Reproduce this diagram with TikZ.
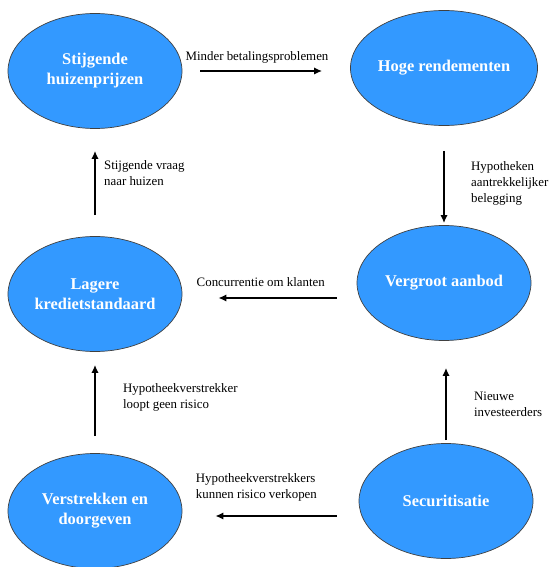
\documentclass[tikz,border=0pt]{standalone}
\usepackage{fontspec}
\setmainfont{Liberation Serif}
\newfontfamily\dutchserif{Liberation Serif}
\usetikzlibrary{shapes.geometric,arrows.meta}
\definecolor{blobblue}{RGB}{51,153,255}
\tikzset{
	every path/.style = {line width=1.9pt},
	blob/.style={ellipse, draw=black!75, line width=0.6pt, fill=blobblue, text=white,
		font=\dutchserif\fontsize{14}{17}\selectfont\bfseries, align=center,
		minimum width=5.22cm, minimum height=3.45cm, inner sep=0pt},
	flow/.style={-{Latex[length=2.4mm,width=2.2mm]}},
	lbl/.style={font=\dutchserif\fontsize{11}{13.6}\selectfont, align=left, inner sep=0pt}
}
\begin{document}
\begin{tikzpicture}
		\useasboundingbox (-2.85,2.13) rectangle (13.62,-14.88);
		\node[blob] (sh) {Stijgende\\huizenprijzen};
		\node[blob, below of = sh, node distance=6.69cm] (lk) {Lagere\\kredietstandaard};
		\node[blob, below of = lk, node distance=6.51cm] (vd) {Verstrekken en\\doorgeven};
		\node[blob, right of = sh, node distance=10.47cm, yshift=0.09cm] (hr) {Hoge rendementen};
		\node[blob, right of = lk, node distance=10.47cm, yshift=0.33cm] (va) {Vergroot aanbod};
		\node[blob, right of = vd, node distance=10.53cm, yshift=0.3cm] (se) {Securitisatie};
		\path[flow]
			(sh.east) edge [shorten <=0.54cm, shorten >=0.84cm] node[lbl, above=0.2cm, pos=0.445]{Minder betalingsproblemen} (sh.east -| hr.west)
			(hr.south) edge [shorten <=0.75cm, shorten >=0.06cm] node[lbl, right=0.78cm, pos=0.58]{Hypotheken\\aantrekkelijker\\belegging} (va.north)
			([yshift=-0.12cm]va.west |- lk.east) edge [shorten <=0.6cm, shorten >=1.08cm] node[lbl, above=0.3cm, pos=0.55]{Concurrentie om klanten} ([yshift=-0.12cm]lk.east)
			(lk.north) edge [shorten <=0.63cm, shorten >=0.66cm] node[lbl, right=0.24cm, pos=0.59]{Stijgende vraag\\naar huizen} (sh.south)

			(vd.north) edge [shorten <=0.51cm, shorten >=0.39cm] node[lbl, right=0.81cm, pos=0.55]{Hypotheekverstrekker\\loopt geen risico} (lk.south)
			(se.north) edge [shorten <=0.09cm, shorten >=0.81cm] node[lbl, right=0.81cm, pos=0.38]{Nieuwe\\investeerders} (se.north |- va.south)
			([yshift=-0.15cm]se.west |- vd.east) edge [shorten <=0.66cm, shorten >=0.99cm] node[lbl, above=0.4cm, pos=0.58]{Hypotheekverstrekkers\\kunnen risico verkopen} ([yshift=-0.15cm]vd.east);
	\end{tikzpicture}
\end{document}
